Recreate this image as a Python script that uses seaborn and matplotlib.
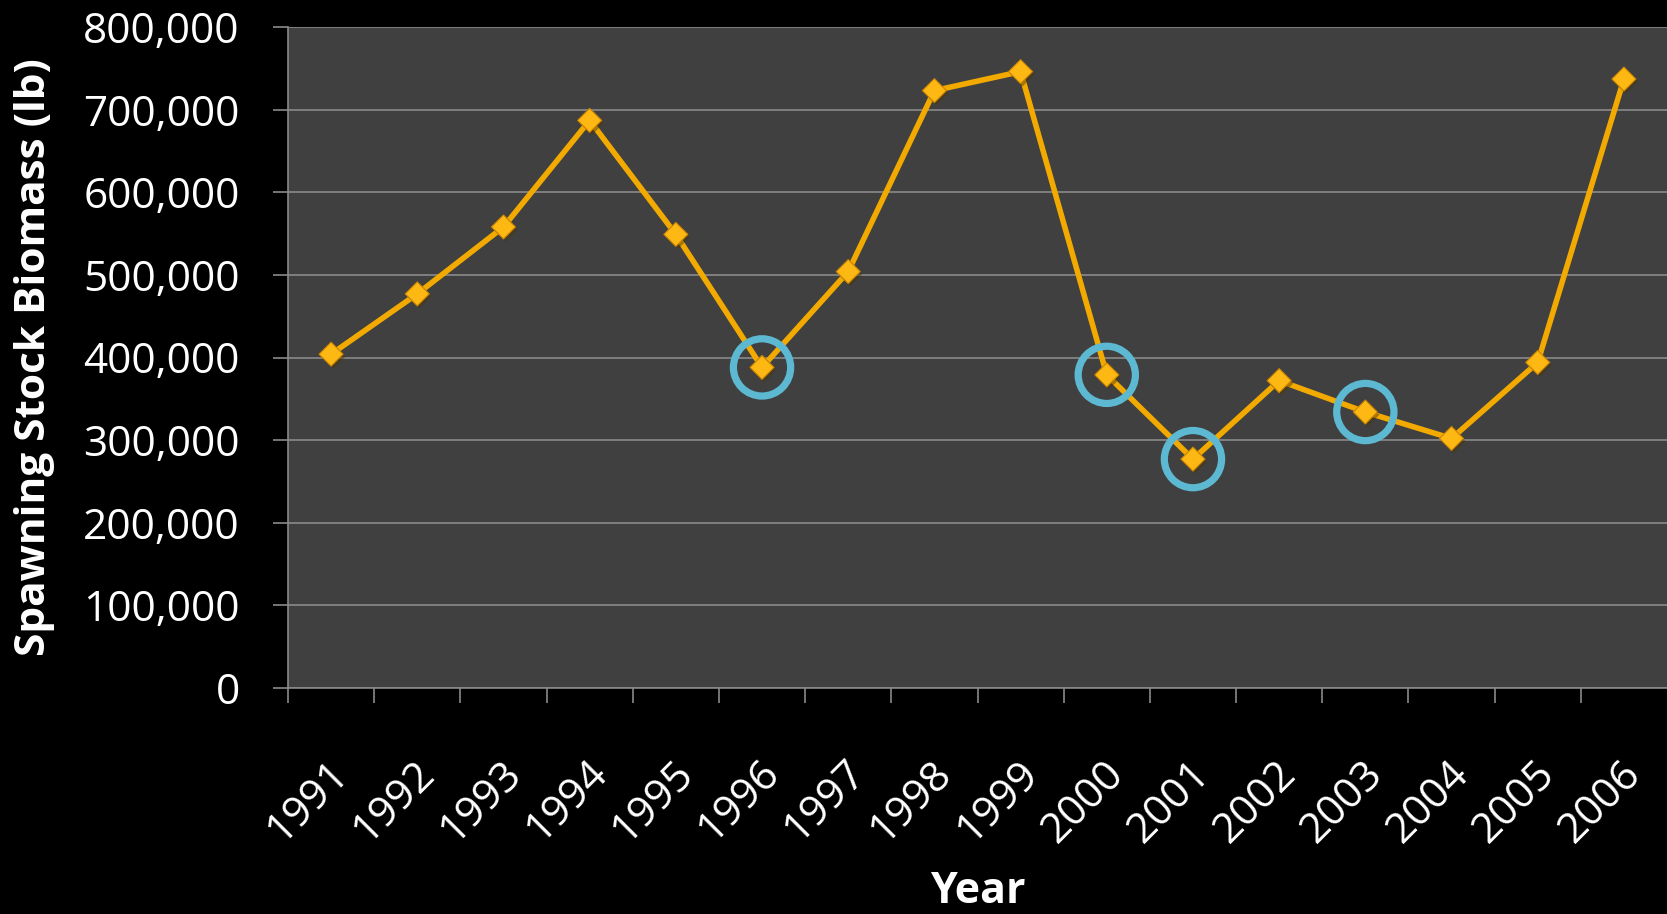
import numpy as np
import pandas as pd
import matplotlib
matplotlib.use("Agg")
import matplotlib.pyplot as plt
import matplotlib.patheffects as pe
import matplotlib.transforms as mtransforms
from matplotlib.ticker import FuncFormatter
import seaborn as sns

# Spawning stock biomass by year
years = ["1991", "1992", "1993", "1994", "1995", "1996", "1997", "1998",
         "1999", "2000", "2001", "2002", "2003", "2004", "2005", "2006"]
biomass_lb = [404000, 477000, 558000, 687000, 549000, 388000, 504000, 723000,
              746000, 379000, 277000, 372000, 334000, 302000, 394000, 737000]
# Years ringed on the chart
highlight_years = ["1996", "2000", "2001", "2003"]
y_ticks = [0, 100000, 200000, 300000, 400000, 500000, 600000, 700000, 800000]

LINE = "#F2AA00"
MARKER = "#FDB814"
MARKER_EDGE = "#C98300"
RING = "#5DB8D2"
GRID = "#8A8A8A"
PANEL = "#404040"

sns.set_theme(style="dark")
plt.rcParams["font.family"] = ["Open Sans", "DejaVu Sans"]

W, H = 1667, 914
fig = plt.figure(figsize=(W / 100, H / 100), dpi=100, facecolor="black")
ax = fig.add_axes([288 / W, 1 - 688 / H, 1 - 288 / W, (688 - 27) / H])
ax.set_facecolor(PANEL)

df = pd.DataFrame({"pos": np.arange(len(years)), "year": years, "biomass": biomass_lb})
hl = df[df["year"].isin(highlight_years)]

sns.lineplot(data=df, x="pos", y="biomass", color=LINE, linewidth=4.0,
             ax=ax, zorder=3)
sns.scatterplot(data=df, x="pos", y="biomass", marker="D", s=150,
                color=MARKER, edgecolor=MARKER_EDGE, linewidth=0.8,
                ax=ax, zorder=4)
ax.collections[-1].set_path_effects(
    [pe.SimplePatchShadow(offset=(1.5, -2), alpha=0.45), pe.Normal()])

sns.scatterplot(data=hl, x="pos", y="biomass", marker="o", s=1700,
                linewidth=5, ax=ax, zorder=5)
rings = ax.collections[-1]
rings.set_facecolor("none")
rings.set_edgecolor(RING)
rings.set_linewidth(5.2)

ax.set_xlim(-0.5, len(years) - 0.5)
ax.set_ylim(y_ticks[0], y_ticks[-1])

# x axis: labels at category centres, tick marks at category boundaries
ax.set_xticks(df["pos"])
ax.set_xticklabels(years, rotation=45, ha="right", va="center",
                   rotation_mode="anchor")
ax.set_xticks(np.arange(-0.5, len(years) - 0.5, 1.0), minor=True)
ax.tick_params(axis="x", which="major", length=0, pad=57,
               labelsize=30.5, labelcolor="white")
ax.tick_params(axis="x", which="minor", length=10.8, width=1.2, color=GRID,
               direction="out", bottom=True)
shift = mtransforms.ScaledTranslation(0.11, 0, fig.dpi_scale_trans)
for lab in ax.get_xticklabels():
    lab.set_transform(lab.get_transform() + shift)

ax.set_yticks(y_ticks)
ax.yaxis.set_major_formatter(FuncFormatter(lambda v, _: f"{v:,.0f}"))
ax.tick_params(axis="y", length=10.8, width=1.2, color=GRID, pad=24,
               labelsize=30.5, labelcolor="white", left=True)

ax.grid(axis="y", color=GRID, linewidth=1.2)
ax.grid(axis="x", visible=False)
ax.set_axisbelow(True)

for side in ["top", "right"]:
    ax.spines[side].set_visible(False)
for side in ["left", "bottom"]:
    ax.spines[side].set_visible(True)
    ax.spines[side].set_color(GRID)
    ax.spines[side].set_linewidth(1.2)

ax.set_xlabel("Year", fontsize=31, fontweight="bold", color="white")
ax.xaxis.set_label_coords(0.5, -0.276)
ax.set_ylabel("Spawning Stock Biomass (lb)", fontsize=30.5, fontweight="bold",
              color="white")
ax.yaxis.set_label_coords(-0.184, 0.5)
ax.yaxis.label.set_va("center")

fig.savefig("out.png", dpi=100, facecolor="black")
